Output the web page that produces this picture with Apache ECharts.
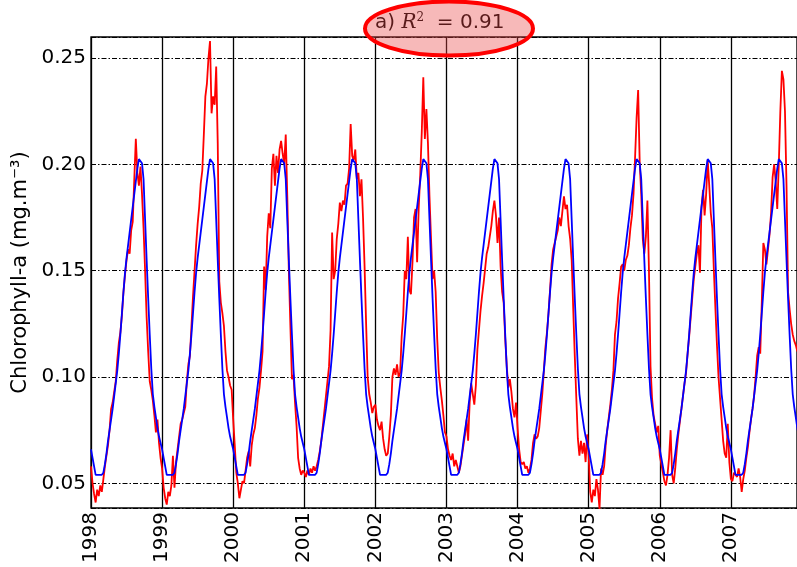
<!DOCTYPE html>
<html>
<head>
<meta charset="utf-8">
<script src="https://cdn.jsdelivr.net/npm/echarts@6/dist/echarts.min.js"></script>
<style>
html,body{margin:0;padding:0;background:#fff;}
#chart{width:797px;height:567px;}
</style>
</head>
<body>
<div id="chart"></div>
<script>
// ---- data ----
const years = [1998, 1999, 2000, 2001, 2002, 2003, 2004, 2005, 2006, 2007];
const xTickLabels = ['1998','1999','2000','2001','2002','2003','2004','2005','2006','2007'];
const yTickLabels = ['0.05','0.10','0.15','0.20','0.25'];
const samplesPerYear = 46; // 8-day composites

// model (blue): identical seasonal cycle each year, 8-day steps
const modelClimatology = [0.066,0.062,0.058,0.054,0.054,0.054,0.054,0.054,0.055,0.059,
  0.064,0.070,0.075,0.080,0.085,0.091,0.097,0.103,0.111,0.120,
  0.130,0.140,0.149,0.156,0.162,0.168,0.174,0.180,0.186,0.192,
  0.198,0.2025,0.203,0.2005,0.193,0.174,0.155,0.137,0.120,0.104,
  0.092,0.086,0.081,0.076,0.072,0.069];

// observations (red), 8-day steps per year
const obs1998 = [0.058,0.050,0.045,0.041,0.047,0.044,0.049,0.046,0.052,0.058,0.063,0.068,0.075,0.085,0.088,0.093,0.098,0.108,0.116,0.121,0.129,0.140,0.148,0.155,0.160,0.158,0.169,0.173,0.193,0.212,0.196,0.190,0.199,0.186,0.170,0.150,0.128,0.112,0.098,0.094,0.089,0.082,0.074,0.080,0.069,0.062];
const obs1999 = [0.057,0.048,0.043,0.040,0.046,0.044,0.049,0.063,0.048,0.060,0.066,0.072,0.078,0.080,0.083,0.086,0.098,0.106,0.110,0.124,0.138,0.150,0.162,0.172,0.180,0.191,0.197,0.214,0.232,0.238,0.250,0.258,0.224,0.232,0.228,0.246,0.210,0.145,0.135,0.130,0.124,0.112,0.103,0.100,0.096,0.094];
const obs2000 = [0.080,0.068,0.055,0.050,0.043,0.047,0.051,0.050,0.056,0.062,0.065,0.058,0.068,0.073,0.076,0.082,0.090,0.095,0.103,0.112,0.152,0.141,0.166,0.177,0.170,0.198,0.205,0.190,0.204,0.196,0.207,0.211,0.205,0.200,0.214,0.185,0.150,0.124,0.099,0.101,0.088,0.077,0.062,0.057,0.054,0.056];
const obs2001 = [0.055,0.053,0.056,0.054,0.057,0.055,0.058,0.056,0.058,0.061,0.065,0.070,0.077,0.084,0.091,0.098,0.105,0.122,0.168,0.146,0.150,0.165,0.172,0.182,0.178,0.183,0.181,0.190,0.191,0.198,0.219,0.204,0.202,0.207,0.193,0.196,0.185,0.193,0.175,0.152,0.125,0.100,0.092,0.088,0.083,0.086];
const obs2002 = [0.087,0.080,0.077,0.075,0.079,0.071,0.066,0.063,0.064,0.072,0.082,0.100,0.104,0.101,0.106,0.100,0.102,0.119,0.129,0.150,0.146,0.166,0.141,0.139,0.154,0.175,0.179,0.154,0.179,0.195,0.215,0.241,0.212,0.226,0.210,0.185,0.165,0.146,0.150,0.140,0.118,0.102,0.095,0.089,0.082,0.074];
const obs2003 = [0.072,0.066,0.063,0.061,0.064,0.058,0.061,0.058,0.055,0.058,0.063,0.068,0.073,0.080,0.070,0.088,0.097,0.092,0.087,0.096,0.113,0.122,0.131,0.138,0.144,0.151,0.158,0.161,0.166,0.171,0.178,0.183,0.176,0.163,0.175,0.152,0.140,0.135,0.118,0.105,0.095,0.099,0.093,0.085,0.081,0.088];
const obs2004 = [0.076,0.066,0.060,0.059,0.060,0.057,0.058,0.055,0.057,0.061,0.069,0.073,0.071,0.072,0.076,0.084,0.092,0.103,0.114,0.121,0.130,0.141,0.153,0.160,0.163,0.166,0.169,0.175,0.171,0.178,0.185,0.179,0.181,0.171,0.165,0.155,0.132,0.110,0.090,0.071,0.063,0.070,0.064,0.069,0.060,0.073];
const obs2005 = [0.063,0.046,0.041,0.047,0.044,0.052,0.047,0.038,0.057,0.054,0.058,0.068,0.075,0.081,0.087,0.094,0.103,0.120,0.126,0.137,0.144,0.152,0.153,0.150,0.155,0.157,0.162,0.170,0.176,0.186,0.203,0.222,0.235,0.201,0.186,0.165,0.158,0.166,0.183,0.150,0.105,0.090,0.082,0.078,0.074,0.077];
const obs2006 = [0.063,0.059,0.055,0.051,0.049,0.054,0.062,0.075,0.054,0.050,0.057,0.066,0.073,0.079,0.085,0.091,0.097,0.102,0.111,0.119,0.128,0.137,0.146,0.152,0.158,0.162,0.149,0.180,0.188,0.176,0.186,0.202,0.190,0.177,0.170,0.150,0.132,0.115,0.100,0.090,0.080,0.070,0.064,0.062,0.078,0.060];
const obs2007 = [0.052,0.051,0.055,0.054,0.053,0.057,0.053,0.046,0.052,0.056,0.062,0.067,0.074,0.080,0.085,0.091,0.100,0.110,0.114,0.111,0.135,0.163,0.160,0.153,0.160,0.167,0.177,0.194,0.200,0.192,0.179,0.200,0.225,0.244,0.240,0.225,0.190,0.140,0.132,0.125,0.120,0.117,0.115,0.112];

const yAxisName = 'Chlorophyll-a (mg.m⁻³)';

// ---- build series ----
const obsByYear = [obs1998, obs1999, obs2000, obs2001, obs2002, obs2003, obs2004, obs2005, obs2006, obs2007];
const obsData = [];
years.forEach((y, k) => obsByYear[k].forEach((v, i) => obsData.push([y + i / samplesPerYear, v])));
const modelData = [];
years.forEach(y => modelClimatology.forEach((v, i) => modelData.push([y + i / samplesPerYear, v])));

const FONT = 'DejaVu Sans';
const chart = echarts.init(document.getElementById('chart'), null, {renderer: 'canvas'});
chart.setOption({
  animation: false,
  backgroundColor: '#ffffff',
  grid: {left: 91, right: -2, top: 37, bottom: 59, show: true, borderColor: '#000', borderWidth: 1.3, backgroundColor: 'transparent'},
  xAxis: {
    type: 'value', min: 1998, max: 2007.93, interval: 1,
    axisLine: {show: false}, axisTick: {show: false},
    splitLine: {show: true, lineStyle: {color: '#000', width: 1.3, type: 'solid'}},
    axisLabel: {
      rotate: 90, margin: 4, fontSize: 20, color: '#000', fontFamily: FONT,
      formatter: v => { const i = years.indexOf(Math.round(v)); return (Math.abs(v - Math.round(v)) < 1e-6 && i >= 0) ? xTickLabels[i] : ''; }
    }
  },
  yAxis: {
    type: 'value', min: 0.0384, max: 0.2599, splitNumber: 5,
    axisLine: {show: false}, axisTick: {show: false},
    splitLine: {show: true, lineStyle: {color: '#000', width: 1, type: [5, 2, 1.5, 2]}},
    axisLabel: {
      margin: 5, fontSize: 20, color: '#000', fontFamily: FONT,
      formatter: v => { const k = Math.round(v * 20); return (Math.abs(v * 20 - k) < 1e-6 && k >= 1 && k <= 5) ? yTickLabels[k - 1] : ''; }
    },
    name: yAxisName, nameLocation: 'middle', nameGap: 55,
    nameTextStyle: {fontSize: 21, color: '#000', fontFamily: FONT}
  },
  graphic: [
    {type: 'text', z: 50, left: 375, top: 12,
     style: {text: '{n|a) }{i|R}{s|2}{n|  = 0.91}', rich: {
       n: {fontSize: 20, fontFamily: FONT, fill: '#000'},
       i: {fontSize: 20, fontFamily: 'DejaVu Serif', fontStyle: 'italic', fill: '#000'},
       s: {fontSize: 12, fontFamily: 'DejaVu Serif', fill: '#000', verticalAlign: 'top', padding: [0, 0, 10, 0]}
     }}},
    {type: 'ellipse', z: 60, shape: {cx: 449, cy: 28.5, rx: 84, ry: 27},
     style: {fill: 'rgba(235,70,70,0.38)', stroke: '#ff0000', lineWidth: 4}}
  ],
  series: [
    {type: 'line', name: 'obs', data: obsData, showSymbol: false, symbol: 'none', clip: true,
     lineStyle: {color: '#ff0000', width: 1.8}, z: 2},
    {type: 'line', name: 'model', data: modelData, showSymbol: false, symbol: 'none', clip: true,
     lineStyle: {color: '#0000ff', width: 1.8}, z: 3}
  ]
});
</script>
</body>
</html>
